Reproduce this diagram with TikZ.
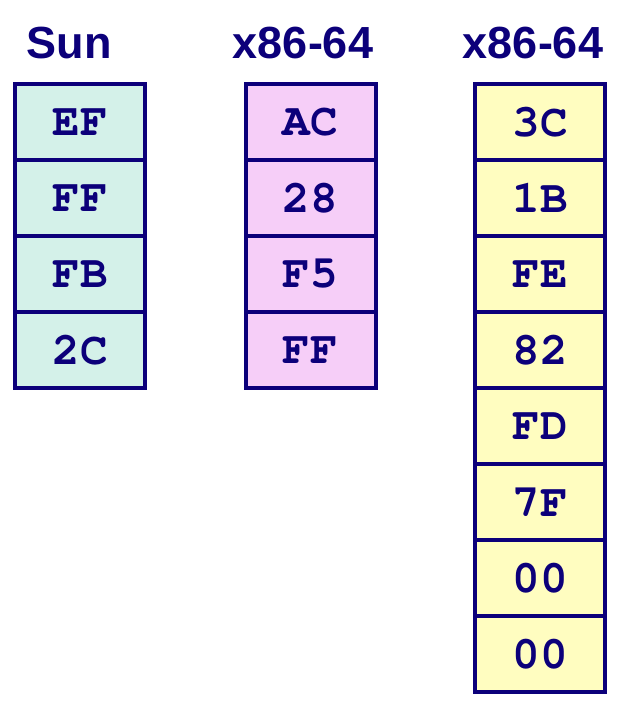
\documentclass[tikz,border=0pt]{standalone}
\usepackage{fontspec}
\setmainfont{Liberation Sans}
\newfontfamily\cellfont{TeX Gyre Cursor}
\usepackage{tikz}

\definecolor{ink}{RGB}{12,0,122}
\definecolor{suncol}{RGB}{212,241,233}
\definecolor{xacol}{RGB}{246,206,248}
\definecolor{xbcol}{RGB}{255,253,192}

\begin{document}
\begin{tikzpicture}
    [x=1pt, y=1pt, cell/.style={rectangle, draw=ink, line width=4pt, minimum width=130pt, minimum height=76pt, inner sep=0pt, text=ink, font=\fontsize{46}{50}\selectfont\cellfont\bfseries}, title/.style={anchor=base, text=ink, inner sep=0pt, font=\fontsize{45}{50}\selectfont\bfseries}]
    \useasboundingbox (0,0) rectangle (618,-706);
    \begin{scope}
    \node[title] (tsun) at (69,-59) {Sun};
    \node[title] (txa) at (303,-59) {x86-64};
    \node[title] (txb) at (533,-59) {x86-64};
    \end{scope}
    \begin{scope}[cell/.append style={fill=suncol}]
    \node[cell] (sun1) at (80,-122) {EF};
    \node[cell] (sun2) at (80,-198) {FF};
    \node[cell] (sun3) at (80,-274) {FB};
    \node[cell] (sun4) at (80,-350) {2C};
    \end{scope}
    \begin{scope}[cell/.append style={fill=xacol}]
    \node[cell] (xa1) at (310.5,-122) {AC};
    \node[cell] (xa2) at (310.5,-198) {28};
    \node[cell] (xa3) at (310.5,-274) {F5};
    \node[cell] (xa4) at (310.5,-350) {FF};
    \end{scope}
    \begin{scope}[cell/.append style={fill=xbcol}]
    \node[cell] (xb1) at (540,-122) {3C};
    \node[cell] (xb2) at (540,-198) {1B};
    \node[cell] (xb3) at (540,-274) {FE};
    \node[cell] (xb4) at (540,-350) {82};
    \node[cell] (xb5) at (540,-426) {FD};
    \node[cell] (xb6) at (540,-502) {7F};
    \node[cell] (xb7) at (540,-578) {00};
    \node[cell] (xb8) at (540,-654) {00};
    \end{scope}
    \end{tikzpicture}
\end{document}
